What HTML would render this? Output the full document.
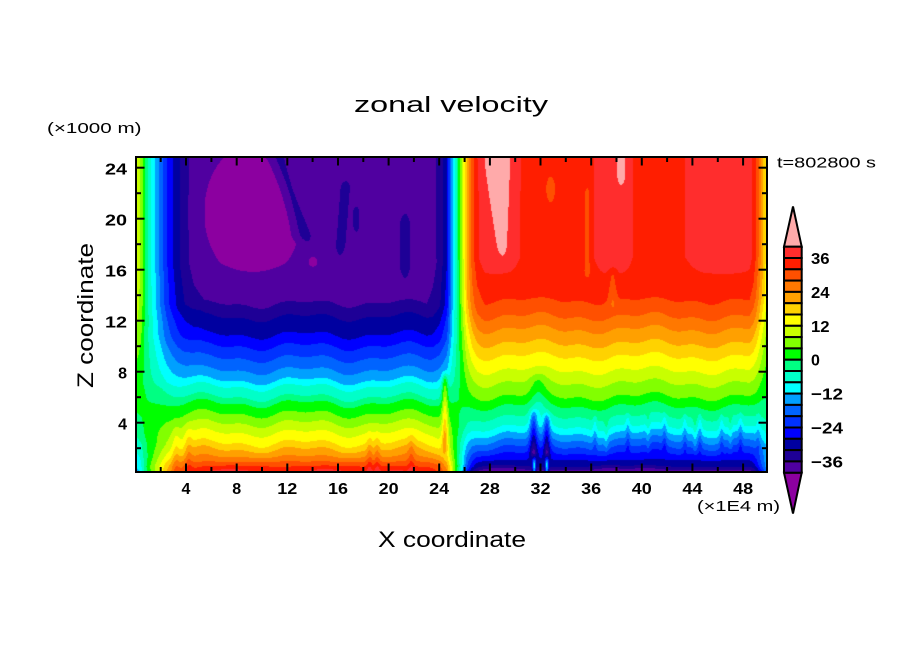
<!DOCTYPE html>
<html>
<head>
<meta charset="utf-8">
<style>
html,body{margin:0;padding:0;background:#fff;}
#wrap{position:relative;width:904px;height:654px;overflow:hidden;background:#fff;}
#c{position:absolute;left:136px;top:157px;width:631px;height:315px;}
#s{position:absolute;left:0;top:0;}
text{font-family:"Liberation Sans",sans-serif;fill:#000;}
.b{font-weight:bold;font-size:16px;}
</style>
</head>
<body>
<div id="wrap">
<canvas id="c" width="631" height="315"></canvas>
<svg id="s" width="904" height="654" xmlns="http://www.w3.org/2000/svg">
  <rect x="136" y="157" width="631" height="315" fill="none" stroke="#000" stroke-width="2"/>
  <g stroke="#000" stroke-width="2">
    <line x1="186.0" y1="472" x2="186.0" y2="463.5"/><line x1="236.7" y1="472" x2="236.7" y2="463.5"/>
    <line x1="287.3" y1="472" x2="287.3" y2="463.5"/><line x1="338.0" y1="472" x2="338.0" y2="463.5"/>
    <line x1="388.6" y1="472" x2="388.6" y2="463.5"/><line x1="439.2" y1="472" x2="439.2" y2="463.5"/>
    <line x1="489.9" y1="472" x2="489.9" y2="463.5"/><line x1="540.5" y1="472" x2="540.5" y2="463.5"/>
    <line x1="591.2" y1="472" x2="591.2" y2="463.5"/><line x1="641.8" y1="472" x2="641.8" y2="463.5"/>
    <line x1="692.4" y1="472" x2="692.4" y2="463.5"/><line x1="743.1" y1="472" x2="743.1" y2="463.5"/>
    <line x1="160.7" y1="472" x2="160.7" y2="467"/><line x1="211.4" y1="472" x2="211.4" y2="467"/>
    <line x1="262.0" y1="472" x2="262.0" y2="467"/><line x1="312.6" y1="472" x2="312.6" y2="467"/>
    <line x1="363.3" y1="472" x2="363.3" y2="467"/><line x1="413.9" y1="472" x2="413.9" y2="467"/>
    <line x1="464.6" y1="472" x2="464.6" y2="467"/><line x1="515.2" y1="472" x2="515.2" y2="467"/>
    <line x1="565.8" y1="472" x2="565.8" y2="467"/><line x1="616.5" y1="472" x2="616.5" y2="467"/>
    <line x1="667.1" y1="472" x2="667.1" y2="467"/><line x1="717.8" y1="472" x2="717.8" y2="467"/>
    <line x1="186.0" y1="157" x2="186.0" y2="165.5"/><line x1="236.7" y1="157" x2="236.7" y2="165.5"/>
    <line x1="287.3" y1="157" x2="287.3" y2="165.5"/><line x1="338.0" y1="157" x2="338.0" y2="165.5"/>
    <line x1="388.6" y1="157" x2="388.6" y2="165.5"/><line x1="439.2" y1="157" x2="439.2" y2="165.5"/>
    <line x1="489.9" y1="157" x2="489.9" y2="165.5"/><line x1="540.5" y1="157" x2="540.5" y2="165.5"/>
    <line x1="591.2" y1="157" x2="591.2" y2="165.5"/><line x1="641.8" y1="157" x2="641.8" y2="165.5"/>
    <line x1="692.4" y1="157" x2="692.4" y2="165.5"/><line x1="743.1" y1="157" x2="743.1" y2="165.5"/>
    <line x1="160.7" y1="157" x2="160.7" y2="162"/><line x1="211.4" y1="157" x2="211.4" y2="162"/>
    <line x1="262.0" y1="157" x2="262.0" y2="162"/><line x1="312.6" y1="157" x2="312.6" y2="162"/>
    <line x1="363.3" y1="157" x2="363.3" y2="162"/><line x1="413.9" y1="157" x2="413.9" y2="162"/>
    <line x1="464.6" y1="157" x2="464.6" y2="162"/><line x1="515.2" y1="157" x2="515.2" y2="162"/>
    <line x1="565.8" y1="157" x2="565.8" y2="162"/><line x1="616.5" y1="157" x2="616.5" y2="162"/>
    <line x1="667.1" y1="157" x2="667.1" y2="162"/><line x1="717.8" y1="157" x2="717.8" y2="162"/>
    <line x1="136" y1="422.7" x2="144.5" y2="422.7"/><line x1="136" y1="371.7" x2="144.5" y2="371.7"/>
    <line x1="136" y1="320.7" x2="144.5" y2="320.7"/><line x1="136" y1="269.7" x2="144.5" y2="269.7"/>
    <line x1="136" y1="218.7" x2="144.5" y2="218.7"/><line x1="136" y1="167.7" x2="144.5" y2="167.7"/>
    <line x1="136" y1="448.2" x2="141" y2="448.2"/><line x1="136" y1="397.2" x2="141" y2="397.2"/>
    <line x1="136" y1="346.2" x2="141" y2="346.2"/><line x1="136" y1="295.2" x2="141" y2="295.2"/>
    <line x1="136" y1="244.2" x2="141" y2="244.2"/><line x1="136" y1="193.2" x2="141" y2="193.2"/>
    <line x1="767" y1="422.7" x2="758.5" y2="422.7"/><line x1="767" y1="371.7" x2="758.5" y2="371.7"/>
    <line x1="767" y1="320.7" x2="758.5" y2="320.7"/><line x1="767" y1="269.7" x2="758.5" y2="269.7"/>
    <line x1="767" y1="218.7" x2="758.5" y2="218.7"/><line x1="767" y1="167.7" x2="758.5" y2="167.7"/>
    <line x1="767" y1="448.2" x2="762" y2="448.2"/><line x1="767" y1="397.2" x2="762" y2="397.2"/>
    <line x1="767" y1="346.2" x2="762" y2="346.2"/><line x1="767" y1="295.2" x2="762" y2="295.2"/>
    <line x1="767" y1="244.2" x2="762" y2="244.2"/><line x1="767" y1="193.2" x2="762" y2="193.2"/>
  </g>

  <g text-anchor="end">
    <text class="b" x="127" y="174.7" textLength="22" lengthAdjust="spacingAndGlyphs">24</text>
    <text class="b" x="127" y="225.7" textLength="22" lengthAdjust="spacingAndGlyphs">20</text>
    <text class="b" x="127" y="276.7" textLength="22" lengthAdjust="spacingAndGlyphs">16</text>
    <text class="b" x="127" y="327.7" textLength="22" lengthAdjust="spacingAndGlyphs">12</text>
    <text class="b" x="127" y="378.7">8</text>
    <text class="b" x="127" y="429.7">4</text>
  </g>
  <g text-anchor="middle">
    <text class="b" x="186.0" y="494">4</text>
    <text class="b" x="236.7" y="494">8</text>
    <text class="b" x="287.3" y="494" textLength="20" lengthAdjust="spacingAndGlyphs">12</text>
    <text class="b" x="338.0" y="494" textLength="20" lengthAdjust="spacingAndGlyphs">16</text>
    <text class="b" x="388.6" y="494" textLength="20" lengthAdjust="spacingAndGlyphs">20</text>
    <text class="b" x="439.2" y="494" textLength="20" lengthAdjust="spacingAndGlyphs">24</text>
    <text class="b" x="489.9" y="494" textLength="20" lengthAdjust="spacingAndGlyphs">28</text>
    <text class="b" x="540.5" y="494" textLength="20" lengthAdjust="spacingAndGlyphs">32</text>
    <text class="b" x="591.2" y="494" textLength="20" lengthAdjust="spacingAndGlyphs">36</text>
    <text class="b" x="641.8" y="494" textLength="20" lengthAdjust="spacingAndGlyphs">40</text>
    <text class="b" x="692.4" y="494" textLength="20" lengthAdjust="spacingAndGlyphs">44</text>
    <text class="b" x="743.1" y="494" textLength="20" lengthAdjust="spacingAndGlyphs">48</text>
  </g>

  <text x="451" y="112" font-size="22" text-anchor="middle" textLength="194" lengthAdjust="spacingAndGlyphs">zonal velocity</text>
  <text x="47" y="133" font-size="15" textLength="94.5" lengthAdjust="spacingAndGlyphs">(×1000 m)</text>
  <text x="777" y="167.5" font-size="15" textLength="99" lengthAdjust="spacingAndGlyphs">t=802800 s</text>
  <text x="697" y="511" font-size="15" textLength="83" lengthAdjust="spacingAndGlyphs">(×1E4 m)</text>
  <text x="452" y="547" font-size="22" text-anchor="middle" textLength="148" lengthAdjust="spacingAndGlyphs">X coordinate</text>
  <text transform="translate(93,315.5) rotate(-90)" x="0" y="0" font-size="22" text-anchor="middle" textLength="145" lengthAdjust="spacingAndGlyphs">Z coordinate</text>

  <g id="cbar" stroke="#000" stroke-width="2">
    <polygon points="793,206.5 784,246.7 801.7,246.7" fill="#ffaaaa"/>
    <polygon points="784,472.7 801.7,472.7 793,513.5" fill="#8c00a0"/>
  </g>
  <g>
    <text class="b" x="811" y="264" textLength="18.6" lengthAdjust="spacingAndGlyphs">36</text>
    <text class="b" x="811" y="297.9" textLength="18.6" lengthAdjust="spacingAndGlyphs">24</text>
    <text class="b" x="811" y="331.8" textLength="18.6" lengthAdjust="spacingAndGlyphs">12</text>
    <text class="b" x="811" y="365.7">0</text>
    <text class="b" x="811" y="399.6" textLength="32" lengthAdjust="spacingAndGlyphs">−12</text>
    <text class="b" x="811" y="433.5" textLength="32" lengthAdjust="spacingAndGlyphs">−24</text>
    <text class="b" x="811" y="467.4" textLength="32" lengthAdjust="spacingAndGlyphs">−36</text>
  </g>
</svg>
</div>
<script>
(function(){
  var cols=["#5000a0","#1e0096","#0000a0","#0000ff","#0032ff","#0064ff","#00a0ff","#00ffff","#00ffc8","#00ff82",
            "#00ff00","#82ff00","#c8ff00","#ffff00","#ffd200","#ffa000","#ff7800","#ff5000","#ff1e00","#ff2d2d"];
  var under="#8c00a0", over="#ffaaaa";
  var NS="http://www.w3.org/2000/svg";
  var cb=document.getElementById("cbar");
  for(var i=0;i<20;i++){
    var r=document.createElementNS(NS,"rect");
    r.setAttribute("x","784");r.setAttribute("y",(246.7+11.3*i).toFixed(2));
    r.setAttribute("width","17.7");r.setAttribute("height","11.3");
    r.setAttribute("fill",cols[19-i]);
    cb.appendChild(r);
  }
  function hex(h){return [parseInt(h.substr(1,2),16),parseInt(h.substr(3,2),16),parseInt(h.substr(5,2),16)];}
  var rgb=cols.map(hex), urgb=hex(under), orgb=hex(over);

  var ST=[[0,0.37],[0.45,0.26],[0.75,0.05],[1.0,-0.05],[1.25,-0.16],[1.55,-0.26],[1.85,-0.37],[2.15,-0.47],
          [2.45,-0.58],[2.85,-0.68],[3.35,-0.79],[3.95,-0.89],[4.6,-0.96],[5.5,-1],[23.0,-1],[23.5,-0.97],
          [24.05,-0.89],[24.6,-0.71],[25.1,-0.26],[25.45,0],[25.9,0.37],[26.2,0.63],[26.6,0.84],[27.0,0.95],
          [27.6,1],[48.5,1],[48.8,0.95],[49.1,0.84],[49.5,0.63],[49.9,0.42],[50.5,0.37]];
  var PL=[[0,36.5],[0.55,32],[0.94,28],[1.33,24],[1.86,20],[2.4,16],[3.2,12],[3.95,8],[4.7,4],[5.5,0],
          [6.0,-4],[6.8,-8],[7.3,-12],[8.1,-16],[9.05,-20],[10.0,-24],[10.9,-28],[12.3,-32],[13.4,-36]];
  var PR=[[0,-40.5],[0.55,-32],[1.07,-28],[1.59,-24],[2.11,-20],[2.64,-16],[3.16,-12],[3.69,-8],[4.47,-4],
          [5.3,0],[6.05,4],[7.1,8],[8.1,12],[9.18,16],[10.2,20],[11.3,24],[12.32,28],[13.6,32]];
  function sm(a,b,t){t=(t-a)/(b-a);t=t<0?0:(t>1?1:t);return t*t*(3-2*t);}
  function win(z,a,b,c,d){return sm(a,b,z)*(1-sm(c,d,z));}
  function lt(T,v){if(v<=T[0][0])return T[0][1];for(var k=1;k<T.length;k++){if(v<=T[k][0]){var a=T[k-1],b=T[k];return a[1]+(b[1]-a[1])*(v-a[0])/(b[0]-a[0]);}}return T[T.length-1][1];}
  function g(x,c,w){var d=(x-c)/w;return Math.exp(-d*d);}
  function p4(x,c,w){var d=(x-c)/w;d=d*d;return Math.exp(-d*d);}
  var jag=[[36.3,-4],[37.2,3],[38.9,-4],[40.5,3],[41.8,-4],[43.4,-4],[44.2,3],[44.6,-4],[46.3,-4],[47,3],[47.8,-4],[49.2,-3]];

  function field(x,z){
    var s=lt(ST,x);
    var wR=(1+s)/2, wL=1-wR;
    var taper=sm(0.6,2.2,z)*(1-sm(13,15,z));
    var dzL=(0.25*Math.sin(0.8*x+0.3)+0.15*Math.sin(1.9*x+1.2))*taper;
    var dzR=(0.25*Math.sin(0.7*x+1.5)+0.15*Math.sin(2.1*x))*taper;
    var zl=z+dzL, zr=z+dzR;
    var pl = zl<=13.4 ? lt(PL,zl) : -36+(-38.6+36)*Math.min(1,(zl-13.4)/3.1);
    var TR=34.5+4*(p4(x,28.5,1.9)+p4(x,37.75,1.55)+p4(x,46.4,3.0));
    var pr = zr<=13.6 ? lt(PR,zr) : 32+(TR-32)*Math.min(1,(zr-13.6)/3.4);
    var u=wL*pl+wR*pr;
    var dx=(x-9.3)/3.3, dz=(z-20.5)/4.6;
    u += -5.5*Math.exp(-dx*dx-dz*dz);
    var xc1=11.3+(25-z)*(2.3/7);
    var w1=win(z,17.3,18.8,26,27);
    u += 5*g(x,xc1,0.25+0.5*w1)*w1;
    var w2=win(z,16,18,22.5,23.5);
    u += 4.5*g(x,16.3+0.08*(z-19),0.15+0.35*w2)*w2;
    var w3=win(z,18.3,19.5,20.5,21.5);
    u += 4.5*g(x,17.45,0.1+0.2*w3)*w3;
    var w4=win(z,14.5,16.5,19.5,21.5);
    u += 4.5*g(x,21.3,0.15+0.4*w4)*w4;
    dx=(x-14.05)/0.3; dz=(z-16.6)/0.35;
    u += -4*Math.exp(-dx*dx-dz*dz);
    var xp=28.6+(25-z)*0.05, wp=0.3+0.85*Math.min(1,Math.max(0,(z-17)/8));
    u += 4.2*g(x,xp,wp)*sm(16.5,18,z);
    u += 4*g(x,38.4,0.35)*sm(22,23.5,z);
    dx=(x-32.8)/0.45; dz=(z-22.3)/1.3;
    u += -4.5*Math.exp(-dx*dx-dz*dz);
    u += -4*g(x,35.7,0.25)*win(z,15,16,22,23);
    u += -4*g(x,37.7,0.3)*win(z,12.5,13.5,15.5,16.5);
    var bot=1-sm(0.3,0.9,z);
    u += bot*(2.5*g(x,7.5,2)+2.5*g(x,15,1.8)+2*g(x,20.5,1.2))*wL;
    u += -bot*(3*g(x,28.9,1.5)+3*g(x,37.5,1)+3*g(x,40.3,1.2))*wR;
    u += 4*(g(x,3.2,0.3)+g(x,4.2,0.3))*(1-sm(2,5,z));
    u += 4*(g(x,18.5,0.22)+g(x,19.1,0.22)+g(x,21.8,0.25))*(1-sm(1.5,4,z));
    u += 12*g(x,24.45,0.24)*win(z,1,2.5,7.2,8.3);
    u += -13*g(x,31.45,0.3)*win(z,0.8,1.8,4,5.5);
    u += -12*g(x,32.5,0.25)*win(z,0.8,1.8,4,5.2);
    u += -4*g(x,31.8,0.6)*win(z,4,5,7,8.5);
    u += 22*(g(x,31.5,0.12)+g(x,32.5,0.12))*(1-sm(0.6,1.6,z));
    for(var k=0;k<jag.length;k++){u += jag[k][1]*g(x,jag[k][0],0.16)*win(z,1.2,2.2,4,5.2);}
    return u;
  }

  var W=631,H=315;
  var cv=document.getElementById("c");
  var ctx=cv.getContext("2d");
  var img=ctx.createImageData(W,H);
  var d=img.data;
  for(var j=0;j<H;j++){
    var py=157+j+0.5;
    var z=(473.7-py)/12.75;
    for(var i=0;i<W;i++){
      var px=136+i+0.5;
      var x=(px-135.4)/12.66;
      var u=field(x,z);
      var idx=Math.floor((u+40)/4);
      var c= idx<0?urgb:(idx>19?orgb:rgb[idx]);
      var o=(j*W+i)*4;
      d[o]=c[0];d[o+1]=c[1];d[o+2]=c[2];d[o+3]=255;
    }
  }
  ctx.putImageData(img,0,0);
})();
</script>
</body>
</html>
